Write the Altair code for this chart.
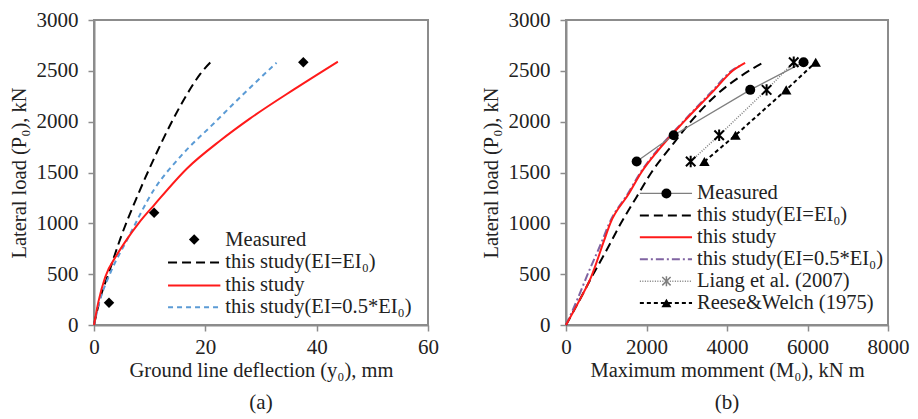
import altair as alt
import pandas as pd

FONT = "Liberation Serif"

# ---------------- Panel (a): load vs. ground line deflection ----------------
a_meas_x = [2.7, 10.8, 37.6]
a_meas_y = [220, 1105, 2585]

a_ei_x = [0, 1.0, 2.7, 4.8, 7.8, 10.8, 13.8, 16.5, 19.1, 21.3]
a_ei_y = [0, 240, 520, 860, 1269, 1640, 1980, 2250, 2470, 2605]

a_this_x = [0, 0.8, 2.0, 4.0, 6.0, 8.0, 10.8, 16.8, 22.7, 28.0, 36.0, 43.8]
a_this_y = [0, 230, 470, 680, 850, 1000, 1180, 1545, 1815, 2030, 2320, 2590]

a_half_x = [0, 1.0, 3.0, 6.0, 10.8, 15.6, 21.6, 27.0, 32.8]
a_half_y = [0, 230, 520, 843, 1333, 1661, 1987, 2280, 2580]

a_legend_labels = ["Measured", "this study(EI=EI\u2080)", "this study", "this study(EI=0.5*EI\u2080)"]
a_legend_rows = [840, 615, 389, 174]          # legend row positions (kN)
a_legend_cols = [13.3, 22.7, 18.0, 23.6]      # swatch start, swatch end, marker, text (mm)

# ---------------- Panel (b): load vs. maximum moment ----------------
b_meas_x = [1756, 2675, 4577, 5902]
b_meas_y = [1608, 1867, 2313, 2585]

b_liang_x = [3098, 3805, 4984, 5658]
b_liang_y = [1608, 1867, 2313, 2585]

b_reese_x = [3439, 4211, 5471, 6204]
b_reese_y = [1608, 1867, 2313, 2585]

b_this_x = [0, 330, 618, 943, 1100, 1560, 1870, 2280, 2930, 3667, 4140, 4450]
b_this_y = [0, 240, 466, 827, 1000, 1290, 1500, 1713, 2000, 2303, 2500, 2578]

b_ei_x = [0, 330, 650, 1000, 1363, 1740, 2122, 2600, 3100, 3700, 4350, 4920]
b_ei_y = [0, 240, 480, 730, 1000, 1250, 1500, 1750, 2000, 2250, 2450, 2585]

b_half_x = [0, 290, 560, 900, 1075, 1535, 1850, 2265, 2910, 3640, 4110, 4320]
b_half_y = [0, 260, 520, 830, 1000, 1292, 1500, 1718, 2000, 2305, 2500, 2549]

b_legend_labels = ["Measured", "this study(EI=EI\u2080)", "this study",
                   "this study(EI=0.5*EI\u2080)", "Liang et al. (2007)", "Reese&Welch (1975)"]
b_legend_rows = [1294, 1078, 863, 647, 431, 216]
b_legend_cols = [1835, 3131, 2495, 3254]

Y_TICKS = [0, 500, 1000, 1500, 2000, 2500, 3000]
A_X_TICKS = [0, 20, 40, 60]
B_X_TICKS = [0, 2000, 4000, 6000, 8000]

ASTERISK = "M-1,-1L1,1M-1,1L1,-1M0,-1.2L0,1.2"
TXT = 20.5


def make_enc(xdom, xticks, xtitle):
    def X(field="x"):
        return alt.X(f"{field}:Q", scale=alt.Scale(domain=xdom, nice=False, zero=False),
                     axis=alt.Axis(values=xticks, title=xtitle, format="d", labelFlush=False,
                                   labelPadding=5, titlePadding=3))

    def Y(field="y"):
        return alt.Y(f"{field}:Q", scale=alt.Scale(domain=[0, 3000], nice=False),
                     axis=alt.Axis(values=Y_TICKS, title="Lateral load (P\u2080), kN", format="d",
                                   labelPadding=10, titlePadding=7))
    return X, Y


def series(xs, ys):
    return pd.DataFrame({"x": xs, "y": ys, "i": list(range(len(xs)))})


def line_layer(X, Y, xs, ys, **kw):
    return alt.Chart(series(xs, ys)).mark_line(**kw).encode(x=X(), y=Y(), order="i:Q")


def point_layer(X, Y, xs, ys, **kw):
    return alt.Chart(series(xs, ys)).mark_point(**kw).encode(x=X(), y=Y())


def legend_swatch(X, Y, cols, row, **kw):
    df = pd.DataFrame({"x": [cols[0]], "x2": [cols[1]], "y": [row]})
    return alt.Chart(df).mark_rule(**kw).encode(x=X(), x2="x2:Q", y=Y())


def legend_marker(X, Y, cols, row, **kw):
    df = pd.DataFrame({"x": [cols[2]], "y": [row]})
    return alt.Chart(df).mark_point(**kw).encode(x=X(), y=Y())


def legend_text(X, Y, cols, rows, labels):
    df = pd.DataFrame({"x": [cols[3]] * len(rows), "y": rows, "label": labels})
    return alt.Chart(df).mark_text(align="left", baseline="middle", font=FONT, fontSize=TXT,
                                   color="#222").encode(x=X(), y=Y(), text="label:N")


RED = "#ff1a1a"
BLUE = "#5b9bd5"
PURPLE = "#8064a2"
GRAY = "#7f7f7f"
SMOOTH = "monotone"

# ---- panel a ----
Xa, Ya = make_enc([0, 60], A_X_TICKS, "Ground line deflection (y\u2080), mm")
pa = alt.layer(
    line_layer(Xa, Ya, a_ei_x, a_ei_y, color="black", strokeWidth=2, strokeDash=[9, 5],
               interpolate=SMOOTH),
    line_layer(Xa, Ya, a_half_x, a_half_y, color=BLUE, strokeWidth=2, strokeDash=[5, 4],
               interpolate=SMOOTH),
    line_layer(Xa, Ya, a_this_x, a_this_y, color=RED, strokeWidth=2, interpolate=SMOOTH),
    point_layer(Xa, Ya, a_meas_x, a_meas_y, shape="diamond", filled=True, size=110,
                color="black", opacity=1),
    legend_marker(Xa, Ya, a_legend_cols, a_legend_rows[0], shape="diamond", filled=True,
                  size=110, color="black", opacity=1),
    legend_swatch(Xa, Ya, a_legend_cols, a_legend_rows[1], color="black", strokeWidth=2,
                  strokeDash=[9, 5]),
    legend_swatch(Xa, Ya, a_legend_cols, a_legend_rows[2], color=RED, strokeWidth=2),
    legend_swatch(Xa, Ya, a_legend_cols, a_legend_rows[3], color=BLUE, strokeWidth=2,
                  strokeDash=[5, 4]),
    legend_text(Xa, Ya, a_legend_cols, a_legend_rows, a_legend_labels),
).properties(
    width=334, height=305,
    title=alt.TitleParams("(a)", orient="bottom", anchor="middle", font=FONT, fontSize=21,
                          fontWeight="normal", color="#222", offset=11),
)

# ---- panel b ----
Xb, Yb = make_enc([0, 8000], B_X_TICKS, "Maximum momment (M\u2080), kN m")
pb = alt.layer(
    line_layer(Xb, Yb, b_ei_x, b_ei_y, color="black", strokeWidth=2, strokeDash=[9, 5],
               interpolate=SMOOTH),
    line_layer(Xb, Yb, b_half_x, b_half_y, color=PURPLE, strokeWidth=2, strokeDash=[8, 3, 2, 3],
               interpolate=SMOOTH),
    line_layer(Xb, Yb, b_this_x, b_this_y, color=RED, strokeWidth=2, interpolate=SMOOTH),
    line_layer(Xb, Yb, b_meas_x, b_meas_y, color=GRAY, strokeWidth=1.3),
    line_layer(Xb, Yb, b_liang_x, b_liang_y, color=GRAY, strokeWidth=1.5, strokeDash=[1, 1.5]),
    line_layer(Xb, Yb, b_reese_x, b_reese_y, color="black", strokeWidth=2, strokeDash=[4, 3]),
    point_layer(Xb, Yb, b_meas_x, b_meas_y, shape="circle", filled=True, size=100,
                color="black", opacity=1),
    point_layer(Xb, Yb, b_liang_x, b_liang_y, shape=ASTERISK, filled=False, size=90,
                color="black", strokeWidth=2, opacity=1),
    point_layer(Xb, Yb, b_reese_x, b_reese_y, shape="triangle-up", filled=True, size=110,
                color="black", opacity=1),
    # legend
    legend_swatch(Xb, Yb, b_legend_cols, b_legend_rows[0], color=GRAY, strokeWidth=1.3),
    legend_marker(Xb, Yb, b_legend_cols, b_legend_rows[0], shape="circle", filled=True,
                  size=100, color="black", opacity=1),
    legend_swatch(Xb, Yb, b_legend_cols, b_legend_rows[1], color="black", strokeWidth=2,
                  strokeDash=[9, 5]),
    legend_swatch(Xb, Yb, b_legend_cols, b_legend_rows[2], color=RED, strokeWidth=2),
    legend_swatch(Xb, Yb, b_legend_cols, b_legend_rows[3], color=PURPLE, strokeWidth=2,
                  strokeDash=[8, 3, 2, 3]),
    legend_swatch(Xb, Yb, b_legend_cols, b_legend_rows[4], color=GRAY, strokeWidth=1.5,
                  strokeDash=[1, 1.5]),
    legend_marker(Xb, Yb, b_legend_cols, b_legend_rows[4], shape=ASTERISK, filled=False,
                  size=70, color=GRAY, strokeWidth=1.5, opacity=1),
    legend_swatch(Xb, Yb, b_legend_cols, b_legend_rows[5], color="black", strokeWidth=2,
                  strokeDash=[4, 3]),
    legend_marker(Xb, Yb, b_legend_cols, b_legend_rows[5], shape="triangle-up", filled=True,
                  size=100, color="black", opacity=1),
    legend_text(Xb, Yb, b_legend_cols, b_legend_rows, b_legend_labels),
).properties(
    width=322, height=305,
    title=alt.TitleParams("(b)", orient="bottom", anchor="middle", font=FONT, fontSize=21,
                          fontWeight="normal", color="#222", offset=11),
)

chart = alt.hconcat(pa, pb, spacing=40).properties(
    padding={"left": 0, "top": 0, "right": 0, "bottom": 0}
).configure(
    font=FONT,
).configure_axis(
    labelFont=FONT, titleFont=FONT, labelFontSize=21, titleFontSize=TXT,
    labelColor="#222", titleColor="#222", titleFontWeight="normal",
    domainColor="#8c8c8c", domainWidth=2, tickColor="#8c8c8c", tickWidth=1.5, tickSize=6,
    grid=False,
).configure_view(
    stroke="#8c8c8c", strokeWidth=2,
)

chart.save("out.html", embed_options={"renderer": "svg", "actions": False})
